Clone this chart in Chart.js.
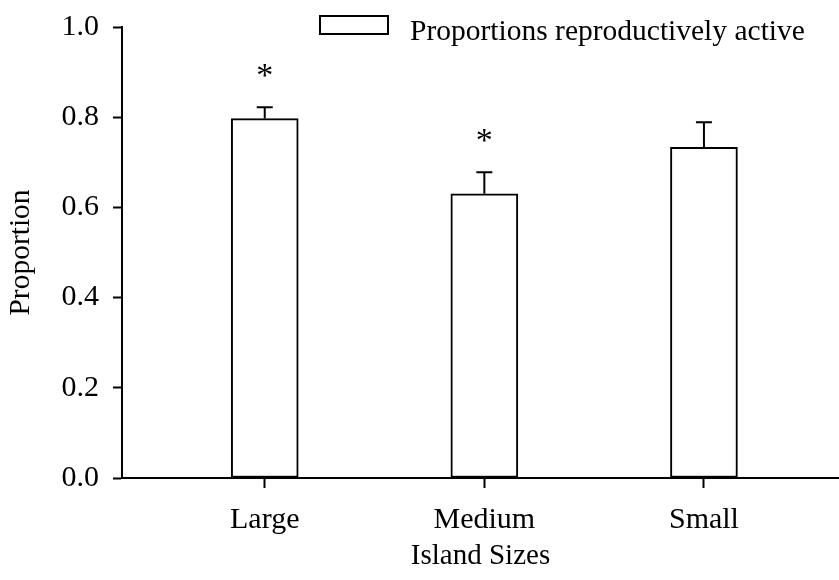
<!DOCTYPE html>
<html>
<head>
<meta charset="utf-8">
<script src="https://cdn.jsdelivr.net/npm/chart.js@4/dist/chart.umd.min.js"></script>
<style>
  html, body { margin: 0; padding: 0; background: #fff; }
  #wrap { width: 839px; height: 580px; }
</style>
</head>
<body>
<div id="wrap"><canvas id="islandChart"></canvas></div>
<script>
// Proportion of reproductively active individuals per island size
const categories = ['Large', 'Medium', 'Small'];
const proportions = [0.797, 0.630, 0.733];
const stdErrors = [0.025, 0.048, 0.056];
const significant = [true, true, false];
const yTicks = [0.0, 0.2, 0.4, 0.6, 0.8, 1.0];
const seriesLabel = 'Proportions reproductively active';

const FONT = 'Liberation Serif, Times New Roman, serif';

// Position on the x axis = category index + 1
const barData = proportions.map((v, i) => ({ x: i + 1, y: v }));

// Error bars (upper only) and the asterisks above them
const errorBars = {
  id: 'errorBars',
  afterDatasetsDraw(chart) {
    const ctx = chart.ctx;
    const xs = chart.scales.x, ys = chart.scales.y;
    ctx.save();
    ctx.strokeStyle = '#000';
    ctx.lineWidth = 2;
    proportions.forEach((v, i) => {
      const x = xs.getPixelForValue(i + 1);
      const yTop = ys.getPixelForValue(v);
      const yErr = ys.getPixelForValue(v + stdErrors[i]);
      ctx.beginPath();
      ctx.moveTo(x, yTop);
      ctx.lineTo(x, yErr);
      ctx.moveTo(x - 8, yErr);
      ctx.lineTo(x + 8, yErr);
      ctx.stroke();
      if (significant[i]) {
        ctx.fillStyle = '#000';
        ctx.font = '34px ' + FONT;
        ctx.textAlign = 'center';
        ctx.textBaseline = 'alphabetic';
        ctx.fillText('*', x, yErr - 21);
      }
    });
    ctx.restore();
  }
};

// Legend: open box followed by the series name
const boxLegend = {
  id: 'boxLegend',
  afterDraw(chart) {
    const ctx = chart.ctx;
    ctx.save();
    ctx.strokeStyle = '#000';
    ctx.lineWidth = 2;
    ctx.strokeRect(320, 16, 68, 18);
    ctx.fillStyle = '#000';
    ctx.font = '29.5px ' + FONT;
    ctx.textAlign = 'left';
    ctx.textBaseline = 'alphabetic';
    ctx.fillText(chart.data.datasets[0].label, 410, 40);
    ctx.restore();
  }
};

Chart.defaults.color = '#000';
Chart.defaults.font.family = FONT;
Chart.defaults.font.size = 30;

new Chart(document.getElementById('islandChart'), {
  type: 'bar',
  data: {
    datasets: [{
      label: seriesLabel,
      data: barData,
      backgroundColor: '#fff',
      borderColor: '#000',
      borderWidth: 2,
      borderSkipped: false,
      barThickness: 67
    }]
  },
  options: {
    responsive: true,
    maintainAspectRatio: false,
    animation: false,
    layout: { padding: { top: 27, right: 0, left: 0, bottom: 0 } },
    plugins: {
      legend: { display: false },
      tooltip: { enabled: false }
    },
    scales: {
      x: {
        type: 'linear',
        offset: false,
        min: 0.35,
        max: 3.615,
        afterBuildTicks(axis) {
          axis.ticks = categories.map((c, i) => ({ value: i + 1 }));
        },
        afterFit(axis) { axis.height = 102; },
        ticks: {
          callback: (v) => categories[v - 1],
          padding: 14,
          autoSkip: false,
          maxRotation: 0
        },
        grid: {
          drawOnChartArea: false,
          offset: false,
          tickLength: 10,
          tickWidth: 2,
          tickColor: '#000'
        },
        border: { color: '#000', width: 2 },
        title: {
          display: true,
          text: 'Island Sizes',
          font: { size: 29 },
          padding: { top: 4, bottom: 6 }
        }
      },
      y: {
        min: 0,
        max: 1,
        afterBuildTicks(axis) {
          axis.ticks = yTicks.map(v => ({ value: v }));
        },
        afterFit(axis) { axis.width = 122; },
        ticks: {
          callback: (v) => v.toFixed(1),
          padding: 14,
          font: { lineHeight: 0.6 }
        },
        grid: {
          drawOnChartArea: false,
          tickLength: 9,
          tickWidth: 2,
          tickColor: '#000'
        },
        border: { color: '#000', width: 2 },
        title: {
          display: true,
          text: 'Proportion',
          font: { size: 29.5 },
          padding: { top: 4, bottom: 0 }
        }
      }
    }
  },
  plugins: [errorBars, boxLegend]
});
</script>
</body>
</html>
